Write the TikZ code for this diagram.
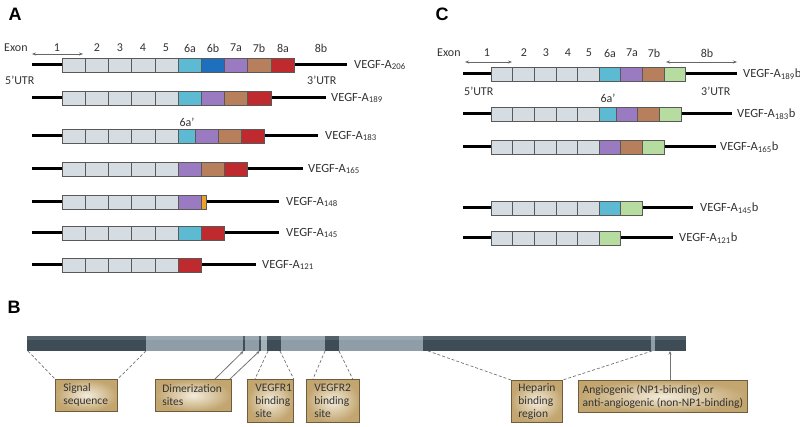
\documentclass[tikz,border=0pt]{standalone}
\usepackage{fontspec}
\setmainfont{Carlito}
\newfontfamily\hfont{Liberation Sans}
\usetikzlibrary{arrows.meta,shadows}
\definecolor{cgray}{HTML}{D6DDE2}
\definecolor{c6a}{HTML}{5DBAD3}
\definecolor{c6b}{HTML}{1F6FBF}
\definecolor{c7a}{HTML}{9A7BC2}
\definecolor{c7b}{HTML}{B77F5C}
\definecolor{c8a}{HTML}{BE2A2E}
\definecolor{c8b}{HTML}{B7DCA0}
\definecolor{corg}{HTML}{E9A227}
\definecolor{bdark}{HTML}{3E4C56}
\definecolor{blight}{HTML}{8E9DA8}
\definecolor{tanc}{HTML}{C2A56F}
\definecolor{tanl}{HTML}{F3ECDB}
\definecolor{tand}{HTML}{6E5C3C}
\definecolor{txtc}{HTML}{333333}
\newcommand\exbx[4]{\draw[exbox,fill=#4] (#1,#3-7) rectangle (#2,#3+7);}
\newcommand\grayrow[3]{\foreach \k in {0,...,4}{\draw[exbox,fill=cgray] ({#1+#2*\k},#3-7) rectangle ({#1+#2*(\k+1)},#3+7);}}
\begin{document}
\begin{tikzpicture}[x=1pt,y=-1pt,
 exbox/.style={draw=black!65,line width=0.6pt},
 utr/.style={line width=3pt,black},
 vlab/.style={anchor=west,inner sep=0pt,font=\fontsize{12.5}{14}\selectfont,text=txtc},
 hlab/.style={inner sep=0pt,font=\fontsize{12}{13}\selectfont,text=txtc},
 pan/.style={inner sep=0pt,font=\hfont\bfseries\fontsize{18}{20}\selectfont},
 tbox/.style={draw=tand,line width=0.7pt,inner color=tanl,outer color=tanc,
   drop shadow={shadow xshift=0.8pt,shadow yshift=-0.8pt,fill=black!55,opacity=0.8},
   align=left,inner xsep=8pt,inner ysep=0pt,anchor=north west,
   font=\fontsize{11.5}{13}\selectfont,text=txtc,
   execute at begin node={\hyphenpenalty=10000\relax\exhyphenpenalty=10000\relax}},
 dsh/.style={draw=black!55,dash pattern=on 3pt off 2pt,line width=0.7pt},
 parr/.style={draw=black!55,line width=0.8pt,-{Stealth[length=3.5pt,width=3pt]}},
 harr/.style={draw=black!60,line width=0.6pt,{Stealth[length=4pt,width=3pt]}-{Stealth[length=4pt,width=3pt]}}
]
\useasboundingbox (0,0) rectangle (800,427);
% ---------------- Panel A ----------------
\node[pan] (pA) at (15,14) {A};
\node[hlab,anchor=west] (exA) at (4,48) {Exon};
\foreach \t/\x in {1/57,2/97,3/120,4/143,5/166,6a/190,6b/213,7a/236,7b/259,8a/283,8b/321}
  {\node[hlab] (hA\t) at (\x,48) {\t};}
\coordinate (arA1) at (32,54); \coordinate (arA2) at (83,54);
\draw[harr] (arA1) -- (arA2);
\node[hlab,anchor=west] (utrA5) at (5,80) {5’UTR};
\node[hlab,anchor=west] (utrA3) at (307,80) {3’UTR};
\node[hlab] (pA6) at (187,122) {6a’};
% 206
\draw[utr] (32,65) -- (347,65);
\grayrow{62}{23.2}{65}
\exbx{178}{201.2}{65}{c6a}\exbx{201.2}{224.4}{65}{c6b}\exbx{224.4}{247.6}{65}{c7a}\exbx{247.6}{270.8}{65}{c7b}\exbx{270.8}{294}{65}{c8a}
\node[vlab] (a206) at (354,65) {VEGF-A\textsubscript{206}};
% 189
\draw[utr] (32,98) -- (326,98);
\grayrow{62}{23.2}{98}
\exbx{178}{201.2}{98}{c6a}\exbx{201.2}{224.4}{98}{c7a}\exbx{224.4}{247.6}{98}{c7b}\exbx{247.6}{270.8}{98}{c8a}
\node[vlab] (a189) at (331,98) {VEGF-A\textsubscript{189}};
% 183
\draw[utr] (32,136) -- (318,136);
\grayrow{62}{23.2}{136}
\exbx{178}{195}{136}{c6a}\exbx{195}{218.2}{136}{c7a}\exbx{218.2}{241.4}{136}{c7b}\exbx{241.4}{264.6}{136}{c8a}
\node[vlab] (a183) at (325,136) {VEGF-A\textsubscript{183}};
% 165
\draw[utr] (32,169) -- (303,169);
\grayrow{62}{23.2}{169}
\exbx{178}{201.2}{169}{c7a}\exbx{201.2}{224.4}{169}{c7b}\exbx{224.4}{247.6}{169}{c8a}
\node[vlab] (a165) at (308,169) {VEGF-A\textsubscript{165}};
% 148
\draw[utr] (32,202) -- (279,202);
\grayrow{62}{23.2}{202}
\exbx{178}{201.2}{202}{c7a}\exbx{201.2}{206}{202}{corg}
\node[vlab] (a148) at (286,202) {VEGF-A\textsubscript{148}};
% 145
\draw[utr] (32,233) -- (279,233);
\grayrow{62}{23.2}{233}
\exbx{178}{201.2}{233}{c6a}\exbx{201.2}{224.4}{233}{c8a}
\node[vlab] (a145) at (286,233) {VEGF-A\textsubscript{145}};
% 121
\draw[utr] (32,265) -- (256,265);
\grayrow{62}{23.2}{265}
\exbx{178}{201.2}{265}{c8a}
\node[vlab] (a121) at (262,265) {VEGF-A\textsubscript{121}};
% ---------------- Panel C ----------------
\node[pan] (pC) at (442,14) {C};
\node[hlab,anchor=west] (exC) at (437,53) {Exon};
\foreach \t/\x in {1/487,2/524,3/546,4/568,5/589,6a/610,7a/632,7b/654,8b/707}
  {\node[hlab] (hC\t) at (\x,53) {\t};}
\coordinate (arC1) at (465,62); \coordinate (arC2) at (512,62);
\coordinate (arC3) at (666,62); \coordinate (arC4) at (737,62);
\draw[harr] (arC1) -- (arC2);
\draw[harr] (arC3) -- (arC4);
\node[hlab,anchor=west] (utrC5) at (464,91) {5’UTR};
\node[hlab,anchor=west] (utrC3) at (701,91) {3’UTR};
\node[hlab] (pC6) at (608,98) {6a’};
% 189b
\draw[utr] (463,74) -- (737,74);
\grayrow{491}{21.6}{74}
\exbx{599}{620.6}{74}{c6a}\exbx{620.6}{642.2}{74}{c7a}\exbx{642.2}{663.8}{74}{c7b}\exbx{663.8}{685.4}{74}{c8b}
\node[vlab] (c189) at (743,74) {VEGF-A\textsubscript{189}b};
% 183b
\draw[utr] (463,114) -- (732,114);
\grayrow{491}{21.6}{114}
\exbx{599}{616}{114}{c6a}\exbx{616}{637.6}{114}{c7a}\exbx{637.6}{659.2}{114}{c7b}\exbx{659.2}{680.8}{114}{c8b}
\node[vlab] (c183) at (737,114) {VEGF-A\textsubscript{183}b};
% 165b
\draw[utr] (463,147) -- (716,147);
\grayrow{491}{21.6}{147}
\exbx{599}{620.6}{147}{c7a}\exbx{620.6}{642.2}{147}{c7b}\exbx{642.2}{663.8}{147}{c8b}
\node[vlab] (c165) at (720,147) {VEGF-A\textsubscript{165}b};
% 145b
\draw[utr] (463,208) -- (693,208);
\grayrow{491}{21.6}{208}
\exbx{599}{620.6}{208}{c6a}\exbx{620.6}{642.2}{208}{c8b}
\node[vlab] (c145) at (700,208) {VEGF-A\textsubscript{145}b};
% 121b
\draw[utr] (463,238) -- (673,238);
\grayrow{491}{21.6}{238}
\exbx{599}{620.6}{238}{c8b}
\node[vlab] (c121) at (679,238) {VEGF-A\textsubscript{121}b};
% ---------------- Panel B ----------------
\node[pan] (pB) at (14,307) {B};
\fill[bdark] (27,336) rectangle (146,351);
\fill[blight] (146,336) rectangle (423,351);
\fill[bdark] (423,336) rectangle (686,351);
\fill[bdark] (242.5,336) rectangle (244.5,351);
\fill[bdark] (258.5,336) rectangle (260.5,351);
\fill[blight!80!white] (260.5,336) rectangle (267,351);
\fill[bdark] (267,336) rectangle (281,351);
\fill[bdark] (325,336) rectangle (339,351);
\fill[blight] (651,336) rectangle (655,351);
\fill[white,opacity=0.12] (27,336) rectangle (686,340);
\coordinate (bS1) at (28,351); \coordinate (bS2) at (146,351);
\coordinate (bD1) at (243.5,351); \coordinate (bD2) at (259.5,351);
\coordinate (bV1a) at (268,351); \coordinate (bV1b) at (280,351);
\coordinate (bV2a) at (325,351); \coordinate (bV2b) at (339,351);
\coordinate (bH1) at (428,351); \coordinate (bH2) at (652,351);
\coordinate (bN) at (670,351);
\node[tbox,text width=46pt,minimum height=32pt] (sig) at (55,379) {Signal\\sequence};
\node[tbox,text width=62pt,minimum height=32pt,inner xsep=7pt] (dim) at (155,379) {Dimerization\\sites};
\node[tbox,text width=30pt,minimum height=43pt] (v1) at (247,379) {VEGFR1\\binding\\site};
\node[tbox,text width=37pt,minimum height=43pt] (v2) at (306,379) {VEGFR2\\binding\\site};
\node[tbox,minimum height=42pt,inner xsep=7pt,text width=37pt] (hep) at (511,380) {Heparin\\binding\\region};
\node[tbox,minimum width=169pt,minimum height=32pt,inner xsep=2pt] (ang) at (578,380) {Angiogenic (NP1-binding) or\\anti-angiogenic (non-NP1-binding)};
\draw[dsh] (bS1) -- (sig.north west);
\draw[dsh] (bS2) -- (sig.north east);
\draw[parr] ([xshift=60pt]dim.north west) -- (bD1);
\draw[parr] ([xshift=75pt]dim.north west) -- (bD2);
\draw[dsh] (bV1a) -- ([xshift=8pt]v1.north west);
\draw[dsh] (bV1b) -- (v1.north east);
\draw[dsh] (bV2a) -- ([xshift=7pt]v2.north west);
\draw[dsh] (bV2b) -- ([xshift=-7pt]v2.north east);
\draw[dsh] (bH1) -- (hep.north west);
\draw[dsh] (bH2) -- (hep.north east);
\draw[parr] (ang.north west -| bN) -- (bN);
\end{tikzpicture}
\end{document}
